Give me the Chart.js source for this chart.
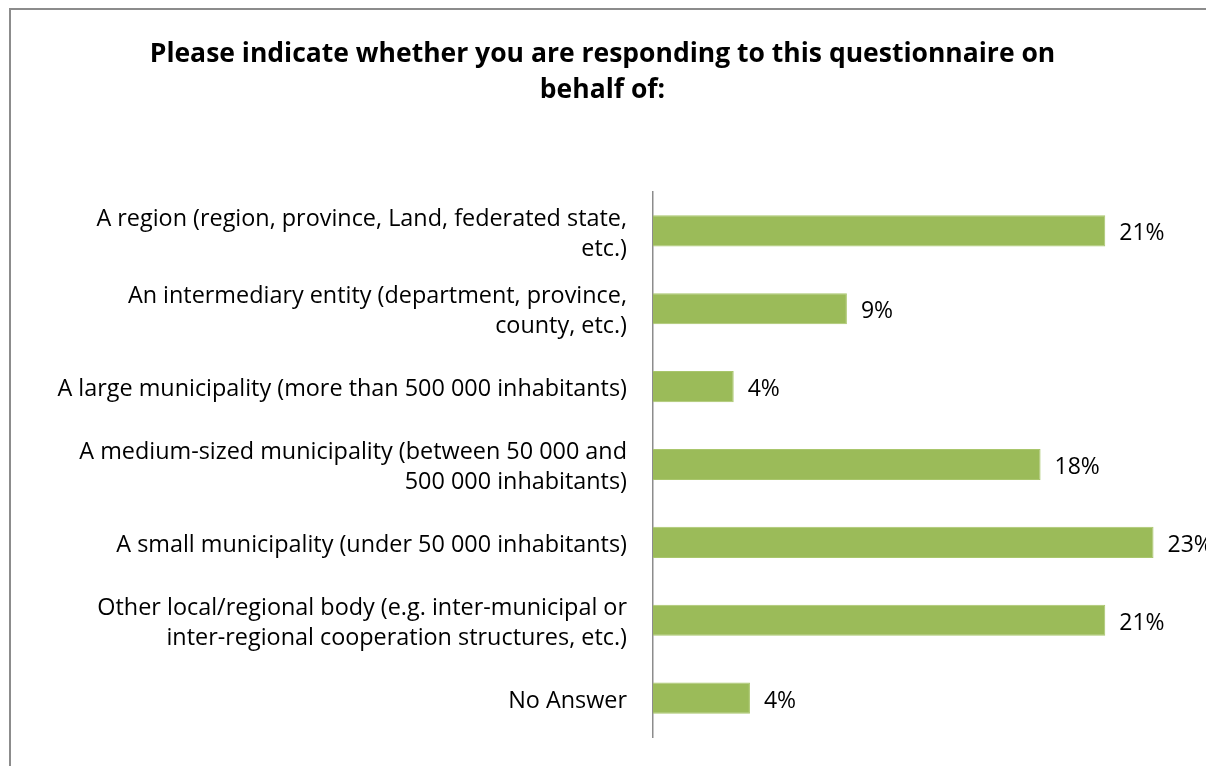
<!DOCTYPE html>
<html>
<head>
<meta charset="utf-8">
<script src="https://cdn.jsdelivr.net/npm/chart.js@4/dist/chart.umd.min.js"></script>
<style>
    html, body { margin: 0; padding: 0; background: #fff; overflow: hidden; }
    #frame {
        position: absolute; left: 9px; top: 8px;
        width: 1260px; height: 800px;
        border: 2px solid #8c8c8c;
        background: #fff;
    }
    #respondentChart { display: block; }
</style>
</head>
<body>
<div id="frame">
    <canvas id="respondentChart" width="1250" height="790"></canvas>
</div>
<script>
const categories = [
    ['A region (region, province, Land, federated state,', 'etc.)'],
    ['An intermediary entity (department, province,', 'county, etc.)'],
    'A large municipality (more than 500 000 inhabitants)',
    ['A medium-sized municipality (between 50 000 and', '500 000 inhabitants)'],
    'A small municipality (under 50 000 inhabitants)',
    ['Other local/regional body (e.g. inter-municipal or', 'inter-regional cooperation structures, etc.)'],
    'No Answer'
];
// share of respondents, percent
const shares = [20.9, 8.96, 3.73, 17.91, 23.13, 20.9, 4.48];
const titleLines = ['Please indicate whether you are responding to this questionnaire on', 'behalf of:'];

const fontFamily = '"Open Sans", Lato, sans-serif';

// percentage labels to the right of each bar
const barValueLabels = {
    id: 'barValueLabels',
    afterDatasetsDraw(chart) {
        const c = chart.ctx;
        const meta = chart.getDatasetMeta(0);
        c.save();
        c.font = `23px ${fontFamily}`;
        c.fillStyle = '#000';
        c.textAlign = 'left';
        c.textBaseline = 'middle';
        meta.data.forEach((bar, i) => {
            c.fillText(Math.round(shares[i]) + '%', bar.x + 14, bar.y + 3);
        });
        c.restore();
    }
};

const ctx = document.getElementById('respondentChart').getContext('2d');
new Chart(ctx, {
    type: 'bar',
    data: {
        labels: categories,
        datasets: [{
            data: shares,
            backgroundColor: '#9bbb59',
            borderColor: '#a9c66c',
            borderWidth: 1,
            barPercentage: 0.8,
            categoryPercentage: 0.5
        }]
    },
    options: {
        indexAxis: 'y',
        responsive: false,
        animation: false,
        events: [],
        layout: { padding: { left: 0, right: 67, top: 0, bottom: 63 } },
        plugins: {
            legend: { display: false },
            tooltip: { enabled: false },
            title: {
                display: true,
                text: titleLines,
                color: '#000',
                font: { family: fontFamily, size: 26.5, weight: 'bold', lineHeight: 36 / 26.5 },
                padding: { top: 26, bottom: 84 }
            }
        },
        scales: {
            x: {
                min: 0,
                max: 25,
                display: false
            },
            y: {
                afterFit: scale => { scale.width = 642; },
                grid: { display: false, drawTicks: false },
                border: { display: true, color: '#8c8c8c', width: 1.5 },
                ticks: {
                    color: '#000',
                    padding: 26,
                    labelOffset: 3,
                    font: { family: fontFamily, size: 23.4, lineHeight: 30 / 23.4 }
                }
            }
        }
    },
    plugins: [barValueLabels]
});
</script>
</body>
</html>
